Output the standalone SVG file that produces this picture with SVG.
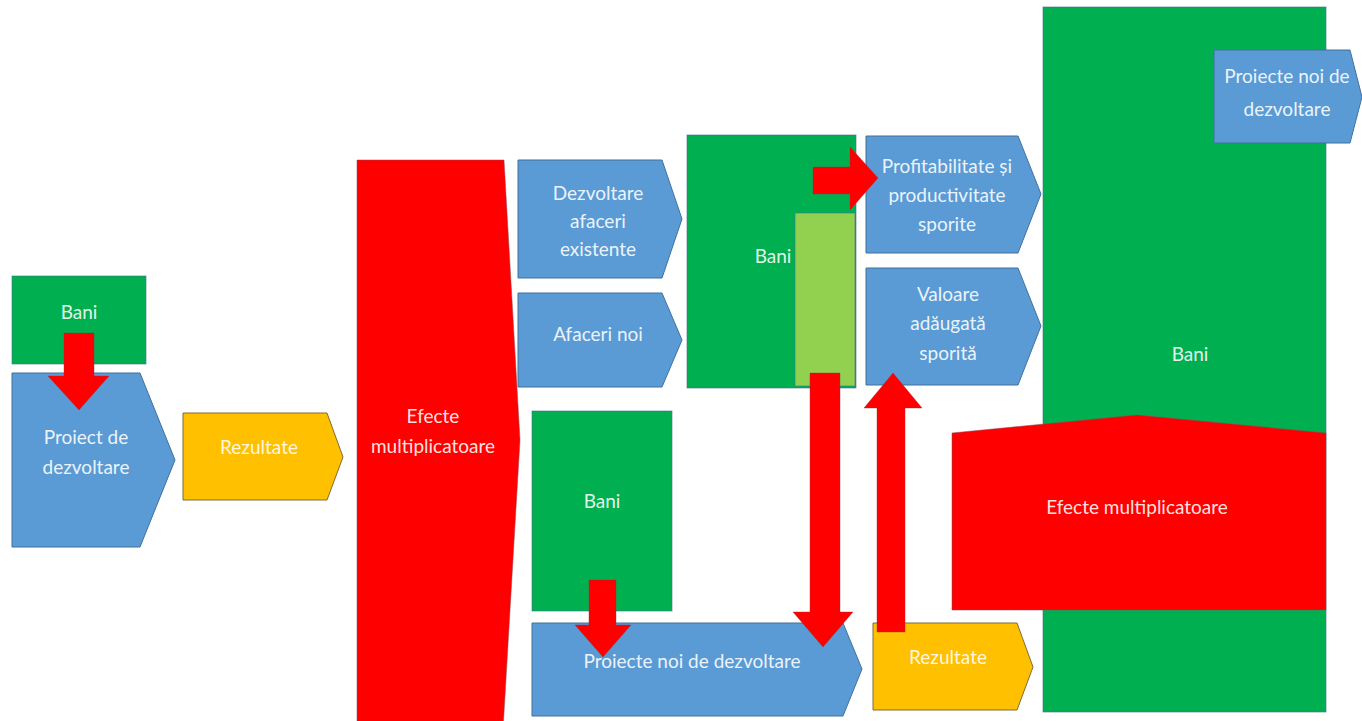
<svg xmlns="http://www.w3.org/2000/svg" width="1362" height="721" viewBox="0 0 1362 721">
<style>
.blue{fill:#5B9BD5;stroke:#41719C;stroke-width:1}
.green{fill:#00B050;stroke:#3F6F8F;stroke-width:1;stroke-opacity:0.6}
.lgreen{fill:#92D050;stroke:#41719C;stroke-width:1;stroke-opacity:0.6}
.red{fill:#FF0000;stroke:#8A4A5A;stroke-width:1;stroke-opacity:0.5}
.yellow{fill:#FFC000;stroke:#7F6A3A;stroke-width:1}
.arrow{fill:#FF0000;stroke:#A0303A;stroke-width:0.8;stroke-opacity:0.5}
text{font-family:Lato,"Open Sans","Liberation Sans",sans-serif;font-size:19px;fill:#FFFFFF;fill-opacity:0.9;text-anchor:middle}
</style>
<rect width="1362" height="721" fill="#FFFFFF"/>

<g id="bani-left">
<rect class="green" x="12" y="276" width="134" height="88"/>
<text x="79" y="319">Bani</text>
</g>
<g id="proiect-dezvoltare">
<polygon class="blue" points="12,373 140,373 175,460 140,547 12,547"/>
<text x="86" y="444">Proiect de</text>
<text x="86" y="474">dezvoltare</text>
</g>
<g id="rezultate-left">
<polygon class="yellow" points="183,413 327,413 343,457 327,500 183,500"/>
<text x="259" y="454">Rezultate</text>
</g>
<g id="efecte-mid">
<polygon class="red" points="357,160 504,160 520,440 503,730 357,730"/>
<text x="433" y="423">Efecte</text>
<text x="433" y="453">multiplicatoare</text>
</g>
<g id="dezvoltare-afaceri">
<polygon class="blue" points="518,160 662,160 682,219 662,278 518,278"/>
<text x="598" y="200">Dezvoltare</text>
<text x="598" y="228">afaceri</text>
<text x="598" y="256">existente</text>
</g>
<g id="afaceri-noi">
<polygon class="blue" points="518,293 662,293 682,340 662,387 518,387"/>
<text x="598" y="341">Afaceri noi</text>
</g>
<g id="bani-lower">
<rect class="green" x="532" y="411" width="140" height="200"/>
<text x="602" y="508">Bani</text>
</g>
<g id="proiecte-noi-bottom">
<polygon class="blue" points="532,623 843,623 862,669 843,716 532,716"/>
<text x="692" y="668">Proiecte noi de dezvoltare</text>
</g>
<g id="bani-upper">
<rect class="green" x="687" y="135" width="169" height="253"/>
<text x="773" y="263">Bani</text>
</g>
<g id="bani-upper-inner">
<rect class="lgreen" x="795" y="213" width="60" height="173"/>
</g>
<g id="profitabilitate">
<polygon class="blue" points="866,136 1018,136 1041,194 1018,253 866,253"/>
<text x="947" y="173">Profitabilitate și</text>
<text x="947" y="202">productivitate</text>
<text x="947" y="231">sporite</text>
</g>
<g id="valoare">
<polygon class="blue" points="866,268 1018,268 1041,326 1018,385 866,385"/>
<text x="948" y="301">Valoare</text>
<text x="948" y="330">adăugată</text>
<text x="948" y="360">sporită</text>
</g>
<g id="rezultate-lower">
<polygon class="yellow" points="873,623 1017,623 1033,667 1017,710 873,710"/>
<text x="948" y="664">Rezultate</text>
</g>
<g id="bani-right">
<rect class="green" x="1043" y="7" width="283" height="705"/>
<text x="1190" y="361">Bani</text>
</g>
<g id="efecte-right">
<polygon class="red" points="952,433 1137,415 1326,433 1326,610 952,610"/>
<text x="1137" y="514">Efecte multiplicatoare</text>
</g>
<g id="proiecte-noi-top">
<polygon class="blue" points="1214,50 1350,50 1362,97 1350,143 1214,143"/>
<text x="1287" y="83">Proiecte noi de</text>
<text x="1287" y="116">dezvoltare</text>
</g>

<g id="connectors">
<polygon class="arrow" points="64,333 94,333 94,376 109,376 79,410 48,376 64,376"/>
<polygon class="arrow" points="589,580 616,580 616,625 631,625 603,657 575,625 589,625"/>
<polygon class="arrow" points="813,167 850,167 850,147 878,178 850,210 850,194 813,194"/>
<polygon class="arrow" points="810,373 840,373 840,612 853,612 823,647 793,612 810,612"/>
<polygon class="arrow" points="877,632 905,632 905,408 922,408 893,373 864,408 877,408"/>
</g>
</svg>
